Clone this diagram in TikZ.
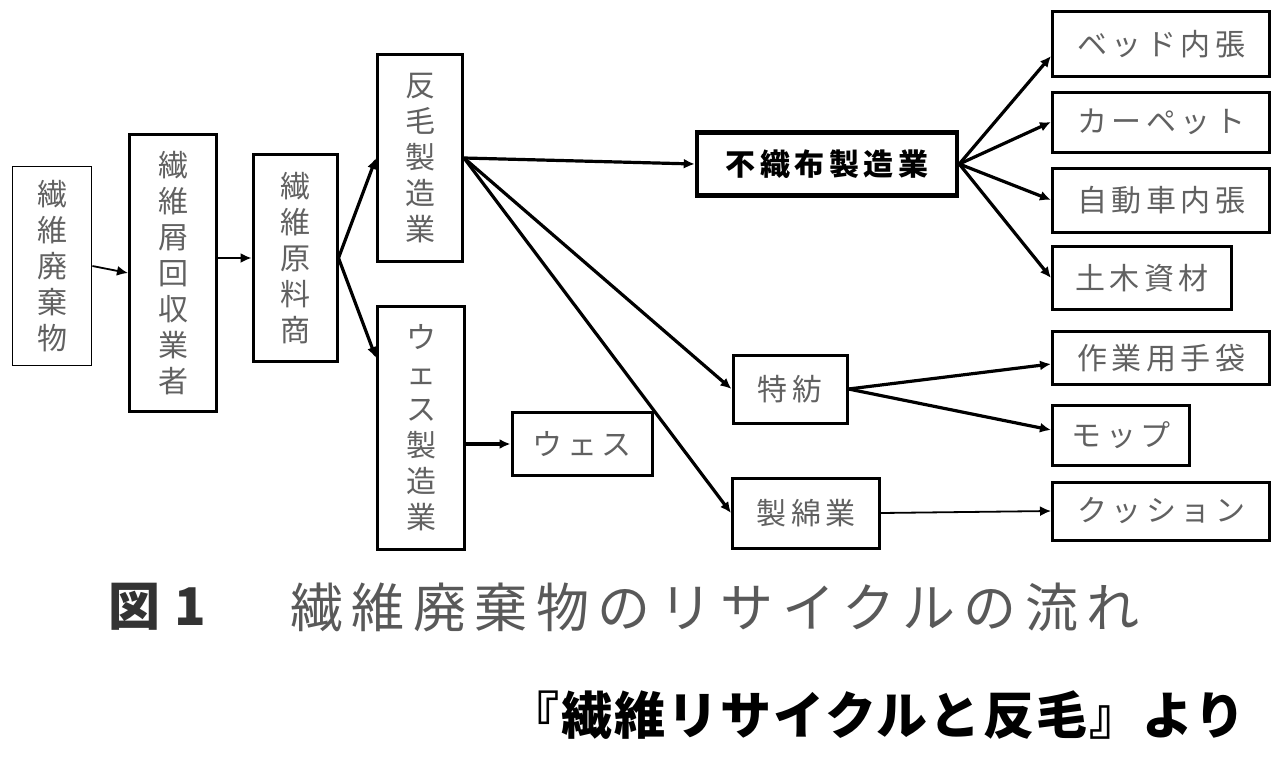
\documentclass[tikz,border=0pt]{standalone}
\usepackage{fontspec}
\newfontfamily\jp[LetterSpace=15]{Noto Sans CJK JP}
\newfontfamily\jpcap[LetterSpace=16]{Noto Sans CJK JP}
\newfontfamily\jpsrc[LetterSpace=4]{Noto Sans CJK JP}
\usetikzlibrary{arrows.meta}
\tikzset{
  box/.style={draw=black, line width=3pt, fill=white, inner sep=0pt,
    font=\jp\fontsize{30}{36}\selectfont, text=black!62, align=center},
  thinbox/.style={box, line width=1.8pt},
  boldbox/.style={box, line width=4.5pt, text=black, font=\jp\bfseries\fontsize{30}{36}\selectfont},
  conn/.style={line width=3.2pt, -{Latex[length=11pt,width=10pt]}},
  thinconn/.style={line width=1.8pt, -{Latex[length=11pt,width=10pt]}},
}
\begin{document}
\begin{tikzpicture}[x=1pt,y=-1pt]
\useasboundingbox[fill=white] (0,0) rectangle (1280,758);

% left column of vertical boxes
\node[thinbox, minimum width=79pt, minimum height=199pt] (b1) at (52,266) {繊\\維\\廃\\棄\\物};
\node[box, minimum width=87pt, minimum height=277pt] (b2) at (173,273) {繊\\維\\屑\\回\\収\\業\\者};
\node[box, minimum width=84pt, minimum height=207pt] (b3) at (295,258) {繊\\維\\原\\料\\商};
\node[box, minimum width=85pt, minimum height=207pt] (b4) at (420,158) {反\\毛\\製\\造\\業};
\node[box, minimum width=87pt, minimum height=243pt] (b5) at (421,428) {ウ\\ェ\\ス\\製\\造\\業};
\node[box, minimum width=140pt, minimum height=63pt] (wes) at (582,444) {ウェス};

% middle
\node[boldbox, minimum width=260pt, minimum height=63pt] (fsf) at (827,164) {不織布製造業};
\node[box, minimum width=114pt, minimum height=68pt] (tok) at (790,389) {特紡};
\node[box, minimum width=147pt, minimum height=70pt] (sei) at (806,513) {製綿業};

% right column
\node[box, minimum width=217pt, minimum height=65pt] (bed) at (1161,44) {ベッド内張};
\node[box, minimum width=217pt, minimum height=60pt] (car) at (1161,122) {カーペット};
\node[box, minimum width=217pt, minimum height=64pt] (jid) at (1161,200) {自動車内張};
\node[box, minimum width=179pt, minimum height=63pt] (dob) at (1142,278) {土木資材};
\node[box, minimum width=217pt, minimum height=53pt] (sag) at (1161,358) {作業用手袋};
\node[box, minimum width=137pt, minimum height=60pt] (mop) at (1121,435) {モップ};
\node[box, minimum width=217pt, minimum height=58pt] (cus) at (1161,511) {クッション};

% connectors
\draw[thinconn] (b1.east) -- (b2.west);
\draw[thinconn] (b2.east |- b3.east) -- (b3.west);
\draw[conn] (b3.east) -- (b4.west);
\draw[conn] (b3.east) -- ([yshift=70pt]b5.west);
\draw[conn] (b4.east) -- (fsf.west);
\draw[conn] (b4.east) -- (tok.west);
\draw[conn] (b4.east) -- (sei.west);
\draw[conn] ([yshift=-16pt]b5.east) -- (wes.west);
\draw[conn] (fsf.east) -- ([yshift=-12pt]bed.west);
\draw[conn] (fsf.east) -- (car.west);
\draw[conn] (fsf.east) -- (jid.west);
\draw[conn] (fsf.east) -- (dob.west);
\draw[conn] (tok.east) -- ([yshift=-6pt]sag.west);
\draw[conn] (tok.east) -- ([yshift=5pt]mop.west);
\draw[thinconn] (sei.east) -- (cus.west);

% caption
\node[anchor=west, inner sep=0pt, font=\jp\bfseries\fontsize{52}{56}\selectfont, text=black!80] (fig) at (108,607) {図\hspace{14pt}1};
\node[anchor=west, inner sep=0pt, font=\jpcap\fontsize{53}{58}\selectfont, text=black!65] (cap) at (290,607) {繊維廃棄物のリサイクルの流れ};
\node[anchor=west, inner sep=0pt, font=\jpsrc\bfseries\fontsize{51}{58}\selectfont, text=black] (src) at (508,715) {『繊維リサイクルと反毛』より};
\end{tikzpicture}
\end{document}
